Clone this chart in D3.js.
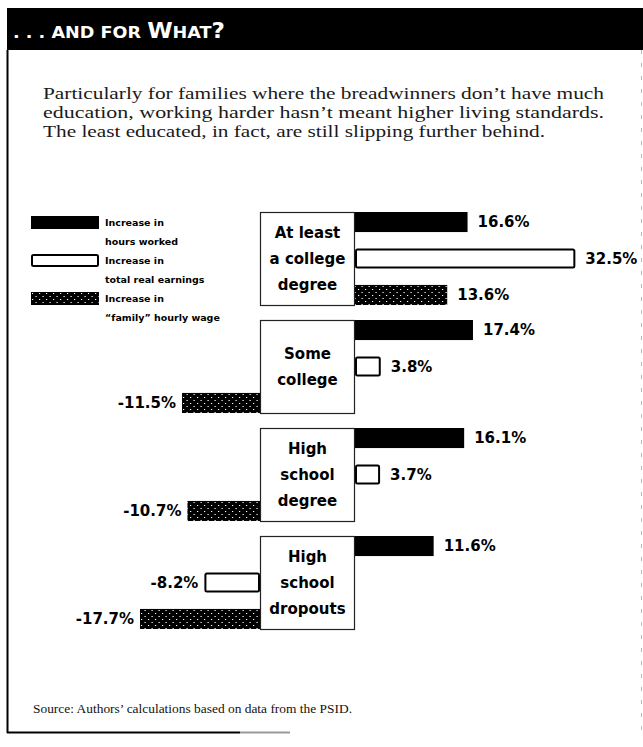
<!DOCTYPE html>
<html>
<head>
<meta charset="utf-8">
<script src="https://d3js.org/d3.v7.min.js"></script>
<style>
  html, body { margin: 0; padding: 0; background: #fff; }
  svg { display: block; }
</style>
</head>
<body>
<div id="chart"></div>
<script>
// data
const categories = ["At least a college degree", "Some college", "High school degree", "High school dropouts"];
const categoryLines = [["At least", "a college", "degree"], ["Some", "college"], ["High", "school", "degree"], ["High", "school", "dropouts"]];
const hoursWorked = [16.6, 17.4, 16.1, 11.6];
const totalEarnings = [32.5, 3.8, 3.7, -8.2];
const hourlyWage = [13.6, -11.5, -10.7, -17.7];
const seriesKeys = ["hours", "earnings", "wage"];
const legendLabels = [["Increase in", "hours worked"], ["Increase in", "total real earnings"], ["Increase in", "\u201cfamily\u201d hourly wage"]];
const introLines = [
  "Particularly for families where the breadwinners don\u2019t have much",
  "education, working harder hasn\u2019t meant higher living standards.",
  "The least educated, in fact, are still slipping further behind."
];
const sourceText = "Source: Authors\u2019 calculations based on data from the PSID.";

const W = 643, H = 747;
const svg = d3.select("#chart").append("svg")
  .attr("width", W).attr("height", H);

// dotted fill for the hourly wage bars
const defs = svg.append("defs");
const pat = defs.append("pattern").attr("id", "dots")
  .attr("patternUnits", "userSpaceOnUse").attr("width", 7).attr("height", 6);
pat.append("rect").attr("width", 7).attr("height", 6).attr("fill", "#000");
pat.append("rect").attr("x", 1).attr("y", 1).attr("width", 1.2).attr("height", 1).attr("fill", "#fff");
pat.append("rect").attr("x", 4.5).attr("y", 4).attr("width", 1.2).attr("height", 1).attr("fill", "#fff");

// frame + title bar
svg.append("rect").attr("x", 7).attr("y", 8).attr("width", W - 7).attr("height", 42).attr("fill", "#000");
svg.append("line").attr("x1", 7.5).attr("x2", 7.5).attr("y1", 50).attr("y2", 733)
  .attr("stroke", "#000").attr("stroke-width", 2);
svg.append("line").attr("x1", 7).attr("x2", 240).attr("y1", 732.5).attr("y2", 732.5)
  .attr("stroke", "#000").attr("stroke-width", 2);
svg.append("line").attr("x1", 240).attr("x2", 290).attr("y1", 732.5).attr("y2", 732.5)
  .attr("stroke", "#999").attr("stroke-width", 2);
svg.append("line").attr("x1", 641.5).attr("x2", 641.5).attr("y1", 50).attr("y2", 733)
  .attr("stroke", "#bbb").attr("stroke-width", 1).attr("stroke-dasharray", "4,9");

const title = svg.append("text").attr("x", 13).attr("y", 38)
  .attr("fill", "#fff").attr("font-family", "DejaVu Sans, sans-serif").attr("font-weight", "bold")
  .attr("textLength", 212).attr("lengthAdjust", "spacingAndGlyphs");
title.append("tspan").attr("font-size", 16).text(". . . AND FOR ");
title.append("tspan").attr("font-size", 21).text("W");
title.append("tspan").attr("font-size", 16).text("HAT");
title.append("tspan").attr("font-size", 21).text("?");

// intro paragraph
svg.append("g").selectAll("text").data(introLines).join("text")
  .attr("x", 43).attr("y", (d, i) => 99 + i * 19)
  .attr("font-family", "Liberation Serif, serif").attr("font-size", 16).attr("fill", "#1a1a1a")
  .attr("textLength", (d, i) => i === 2 ? 502 : 561).attr("lengthAdjust", "spacingAndGlyphs")
  .text(d => d);

// scales
const boxLeft = 260, boxRight = 355, pxPerPct = 6.78;
const y = d3.scaleBand().domain(categories).range([212, 212 + 4 * 108]);
const boxH = 93;
const yRow = d3.scaleBand().domain(seriesKeys).range([0, boxH]).paddingInner(0.45);
const xPos = d3.scaleLinear().domain([0, 35]).range([boxRight, boxRight + 35 * pxPerPct]);
const xNeg = d3.scaleLinear().domain([-20, 0]).range([boxLeft - 20 * pxPerPct, boxLeft]);

const rows = [];
categories.forEach((c, i) => {
  rows.push({ cat: c, key: "hours", v: hoursWorked[i] });
  rows.push({ cat: c, key: "earnings", v: totalEarnings[i] });
  rows.push({ cat: c, key: "wage", v: hourlyWage[i] });
});

const barX0 = d => d.v >= 0 ? xPos(0) : xNeg(d.v);
const barX1 = d => d.v >= 0 ? xPos(d.v) : xNeg(0);
const barY = d => y(d.cat) + yRow(d.key);

const bars = svg.append("g");
bars.selectAll("rect").data(rows).join("rect")
  .attr("x", d => d.key === "earnings" ? barX0(d) + 1 : barX0(d))
  .attr("y", d => d.key === "earnings" ? barY(d) + 1 : barY(d))
  .attr("width", d => d.key === "earnings" ? barX1(d) - barX0(d) - 2 : barX1(d) - barX0(d))
  .attr("height", d => d.key === "earnings" ? yRow.bandwidth() - 2 : yRow.bandwidth())
  .attr("fill", d => d.key === "hours" ? "#000" : d.key === "earnings" ? "#fff" : "url(#dots)")
  .attr("stroke", d => d.key === "earnings" ? "#000" : "none")
  .attr("stroke-width", 2)
  .attr("rx", d => d.key === "earnings" ? 1.5 : 0);

// value labels
bars.selectAll("text").data(rows).join("text")
  .attr("x", d => d.v >= 0 ? xPos(d.v) + 10 : xNeg(d.v) - 6)
  .attr("y", d => barY(d) + yRow.bandwidth() / 2)
  .attr("dy", "0.36em")
  .attr("text-anchor", d => d.v >= 0 ? "start" : "end")
  .attr("font-family", "DejaVu Sans, sans-serif").attr("font-weight", "bold").attr("font-size", 15)
  .attr("fill", "#000")
  .text(d => d.v.toFixed(1) + "%");

// category boxes sit over the zero gap
const boxes = svg.append("g").selectAll("g").data(categories).join("g");
boxes.append("rect")
  .attr("x", boxLeft + 0.5).attr("y", d => y(d) + 0.5)
  .attr("width", boxRight - boxLeft - 1).attr("height", boxH)
  .attr("fill", "#fff").attr("stroke", "#222").attr("stroke-width", 1.2);
boxes.each(function(d, i) {
  const lines = categoryLines[i];
  const cy = y(d) + boxH / 2;
  d3.select(this).selectAll("text").data(lines).join("text")
    .attr("x", (boxLeft + boxRight) / 2)
    .attr("y", (t, j) => cy + (j - (lines.length - 1) / 2) * 26)
    .attr("dy", "0.36em")
    .attr("text-anchor", "middle")
    .attr("font-family", "DejaVu Sans, sans-serif").attr("font-weight", "bold").attr("font-size", 15)
    .attr("fill", "#000")
    .text(t => t);
});

// legend
const legend = svg.append("g").selectAll("g").data(seriesKeys).join("g")
  .attr("transform", (d, i) => `translate(31, ${216 + i * 38})`);
legend.append("rect")
  .attr("x", d => d === "earnings" ? 1 : 0).attr("y", d => d === "earnings" ? 1 : 0)
  .attr("width", d => d === "earnings" ? 66 : 68).attr("height", d => d === "earnings" ? 11 : 13)
  .attr("rx", d => d === "earnings" ? 1.5 : 0)
  .attr("fill", d => d === "hours" ? "#000" : d === "earnings" ? "#fff" : "url(#dots)")
  .attr("stroke", d => d === "earnings" ? "#000" : "none").attr("stroke-width", 2);
legend.each(function(d, i) {
  d3.select(this).selectAll("text").data(legendLabels[i]).join("text")
    .attr("x", 74).attr("y", (t, j) => 6.5 + j * 19)
    .attr("dy", "0.35em")
    .attr("font-family", "DejaVu Sans, sans-serif").attr("font-weight", "bold").attr("font-size", 9.5)
    .attr("fill", "#000")
    .text(t => t);
});

// source
svg.append("text").attr("x", 33).attr("y", 713)
  .attr("font-family", "Liberation Serif, serif").attr("font-size", 13.5).attr("fill", "#111")
  .attr("textLength", 319).attr("lengthAdjust", "spacingAndGlyphs")
  .text(sourceText);
</script>
</body>
</html>
